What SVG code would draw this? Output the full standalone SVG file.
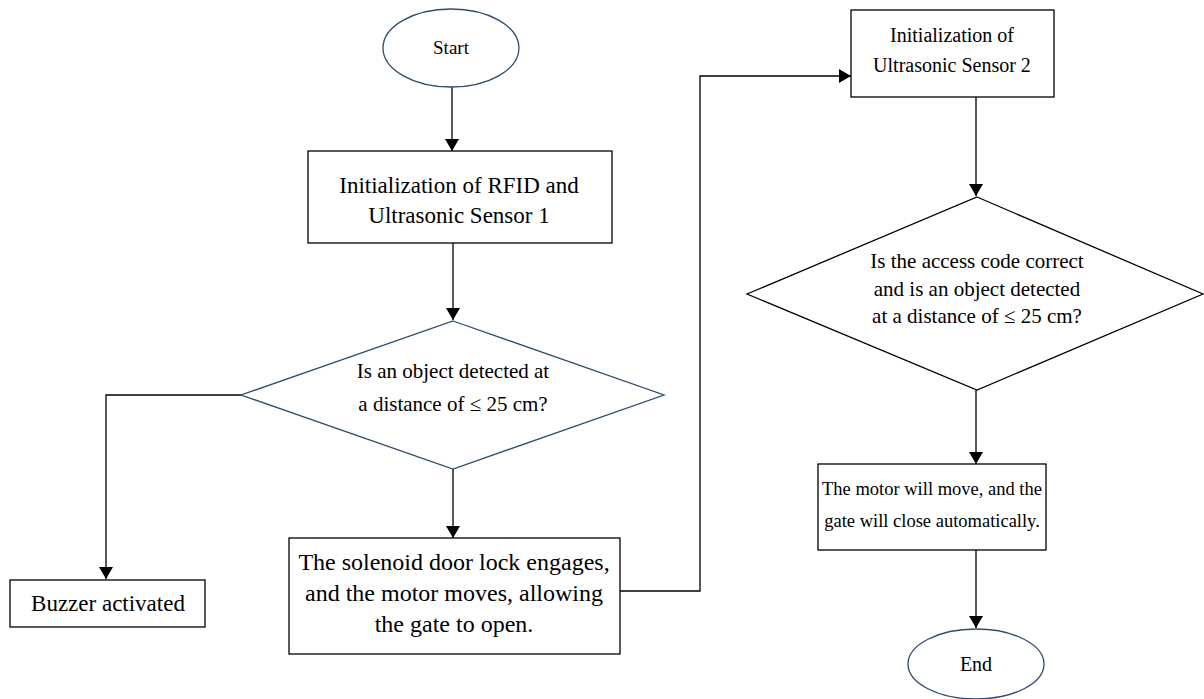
<svg xmlns="http://www.w3.org/2000/svg" width="1204" height="699" viewBox="0 0 1204 699">
<style>
.box{fill:#fff;stroke:#000;stroke-width:1.3}
.blue{fill:#fff;stroke:#2f4b6e;stroke-width:1.3}
.dia2{fill:#fff;stroke:#000;stroke-width:1.3}
.con{fill:none;stroke:#000;stroke-width:1.3}
text{font-family:"Liberation Serif","Times New Roman",serif;fill:#000;text-anchor:middle}
</style>
<defs>
<marker id="ah" markerWidth="12" markerHeight="14" refX="12" refY="7" orient="auto" markerUnits="userSpaceOnUse">
<path d="M0,0 L12,7 L0,14 Z" fill="#000"/>
</marker>
</defs>
<g id="connectors">
<line class="con" x1="452" y1="87" x2="452" y2="151" marker-end="url(#ah)"/>
<line class="con" x1="453" y1="243" x2="453" y2="320" marker-end="url(#ah)"/>
<polyline class="con" points="241,395 106,395 106,579" marker-end="url(#ah)"/>
<line class="con" x1="453" y1="469" x2="453" y2="538" marker-end="url(#ah)"/>
<polyline class="con" points="620,591 700,591 700,76 851,76" marker-end="url(#ah)"/>
<line class="con" x1="976" y1="97" x2="976" y2="196" marker-end="url(#ah)"/>
<line class="con" x1="976" y1="390" x2="976" y2="464" marker-end="url(#ah)"/>
<line class="con" x1="976" y1="550" x2="976" y2="628" marker-end="url(#ah)"/>
</g>
<g id="start">
<ellipse class="blue" cx="451" cy="48" rx="68" ry="39"/>
<text font-size="19" x="451" y="54">Start</text>
</g>
<g id="init1">
<rect class="box" x="308" y="151" width="304" height="92"/>
<text font-size="23" x="459" y="193">Initialization of RFID and</text>
<text font-size="23" x="459" y="223">Ultrasonic Sensor 1</text>
</g>
<g id="decision1">
<polygon class="blue" points="453,321 664,395 453,469 241,395"/>
<text font-size="21" x="453" y="378">Is an object detected at</text>
<text font-size="21" x="453" y="411">a distance of ≤ 25 cm?</text>
</g>
<g id="buzzer">
<rect class="box" x="10" y="580" width="195" height="47"/>
<text font-size="23" x="108" y="611">Buzzer activated</text>
</g>
<g id="solenoid">
<rect class="box" x="289" y="538" width="331" height="116"/>
<text font-size="24" x="454" y="570">The solenoid door lock engages,</text>
<text font-size="24" x="454" y="601">and the motor moves, allowing</text>
<text font-size="24" x="454" y="632">the gate to open.</text>
</g>
<g id="init2">
<rect class="box" x="851" y="10" width="203" height="87"/>
<text font-size="20" x="952" y="42">Initialization of</text>
<text font-size="20" x="952" y="72">Ultrasonic Sensor 2</text>
</g>
<g id="decision2">
<polygon class="dia2" points="977,197 1203,294 977,390 747,294"/>
<text font-size="21" x="977" y="268">Is the access code correct</text>
<text font-size="21" x="977" y="296">and is an object detected</text>
<text font-size="21" x="977" y="323">at a distance of ≤ 25 cm?</text>
</g>
<g id="motor">
<rect class="box" x="818" y="464" width="228" height="86"/>
<text font-size="18.5" x="932" y="495">The motor will move, and the</text>
<text font-size="18.5" x="932" y="527">gate will close automatically.</text>
</g>
<g id="end">
<ellipse class="blue" cx="976" cy="664" rx="68" ry="35"/>
<text font-size="20" x="976" y="671">End</text>
</g>
</svg>
